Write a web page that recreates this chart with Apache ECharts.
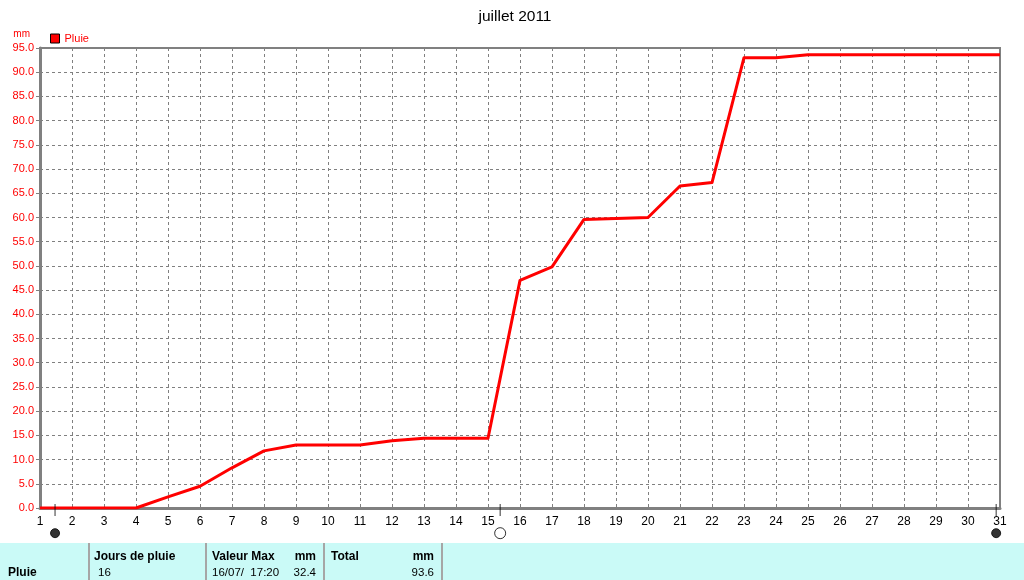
<!DOCTYPE html>
<html><head><meta charset="utf-8">
<style>html,body{margin:0;padding:0;background:#fff}#c{width:1024px;height:580px}</style>
<script src="https://cdn.jsdelivr.net/npm/echarts@6/dist/echarts.min.js"></script>
</head><body><div id="c"></div>
<script>
const days=[1,2,3,4,5,6,7,8,9,10,11,12,13,14,15,16,17,18,19,20,21,22,23,24,25,26,27,28,29,30,31];
const rain=[0,0,0,0,2.3,4.5,8.3,11.8,13,13,13,13.9,14.4,14.4,14.4,47,49.8,59.6,59.8,60,66.5,67.2,93,93,93.6,93.6,93.6,93.6,93.6,93.6,93.6];
const moonDays=[1.47,15.38,30.88];
const moonFills=['#000','#fff','#000'];
const moonSizes=[9,11,9];
const moonY=-5.2;
const headers=['Jours de pluie','Valeur Max','mm','Total','mm'];
const rowLabel='Pluie';
const rowValues=['16','16/07/  17:20','32.4','93.6'];
const F='"Liberation Sans",Arial,sans-serif';
const txt=(x,y,text,bold,align,size)=>({type:'text',x,y,style:{text,fill:'#000',font:(bold?'bold ':'')+(size||(bold?12:11.5))+'px '+F,textAlign:align||'left',textVerticalAlign:'middle'}});
const sep=x=>({type:'rect',shape:{x,y:543,width:2,height:37},style:{fill:'#a6a6a6'}});
const chart=echarts.init(document.getElementById('c'),null,{renderer:'canvas'});
chart.setOption({
 animation:false,
 title:{text:'juillet 2011',left:510,top:4,textAlign:'center',textStyle:{fontFamily:F,fontSize:15.5,fontWeight:'normal',color:'#000'}},
 legend:{left:45,top:28,itemWidth:9,itemHeight:9,itemGap:4,data:[{name:'Pluie',icon:'rect',itemStyle:{color:'#f00',borderColor:'#000',borderWidth:1}}],textStyle:{color:'#f00',fontFamily:F,fontSize:11}},
 grid:{left:40,right:24,top:48,height:460,show:true,borderColor:'#808080',borderWidth:2,backgroundColor:'transparent'},
 xAxis:{type:'value',min:1,max:31,interval:1,
  axisLine:{show:true,onZero:false,lineStyle:{color:'#808080',width:3}},axisTick:{show:false},
  axisLabel:{color:'#000',fontFamily:F,fontSize:12,margin:8,showMaxLabel:true,showMinLabel:true,formatter:v=>String(v)},
  splitLine:{show:true,lineStyle:{color:'#808080',type:[3,3],width:1}}},
 yAxis:{type:'value',min:0,max:95,interval:5,name:'mm',nameLocation:'end',nameGap:9,
  nameTextStyle:{color:'#f00',fontFamily:F,fontSize:10,align:'right',padding:[0,10,0,0]},
  axisLine:{show:true,onZero:false,lineStyle:{color:'#808080',width:3}},axisTick:{show:true,length:4,lineStyle:{color:'#808080'}},
  axisLabel:{color:'#f00',fontFamily:F,fontSize:11,margin:6,formatter:v=>v.toFixed(1)},
  splitLine:{show:true,lineStyle:{color:'#808080',type:[3,3],width:1}}},
 series:[
  {name:'Pluie',type:'line',data:days.map((d,i)=>[d,rain[i]]),showSymbol:false,symbol:'none',clip:true,lineStyle:{color:'#f00',width:3,join:'round'},itemStyle:{color:'#f00'},z:5},
  {name:'ticks',type:'scatter',data:moonDays.map(d=>[d,-0.4]),symbol:'rect',symbolSize:[1,12],clip:false,itemStyle:{color:'#000'},silent:true,z:6},
  {name:'lune',type:'scatter',data:moonDays.map((d,i)=>({value:[d,moonY],symbolSize:moonSizes[i],itemStyle:{color:moonFills[i]}})),symbol:'circle',clip:false,itemStyle:{borderColor:'#000',borderWidth:1},silent:true,z:6}
 ],
 graphic:[
  {type:'rect',shape:{x:0,y:543,width:1024,height:37},style:{fill:'#CAFAF7'}},
  sep(88),sep(205),sep(323),sep(441),
  txt(94,557,headers[0],true),txt(212,557,headers[1],true),txt(316,557,headers[2],true,'right'),txt(331,557,headers[3],true),txt(434,557,headers[4],true,'right'),
  txt(8,573,rowLabel,true),txt(98,573,rowValues[0]),txt(212,573,rowValues[1]),txt(316,573,rowValues[2],false,'right'),txt(434,573,rowValues[3],false,'right')
 ]
});
</script></body></html>
